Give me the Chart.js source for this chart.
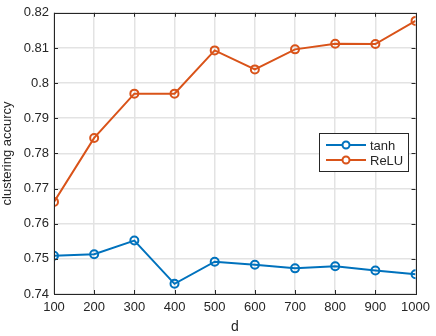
<html>
<head>
  <title>Clustering accuracy</title>
  <script src="https://cdn.jsdelivr.net/npm/chart.js@4/dist/chart.umd.min.js"></script>
  <style>
    body { margin: 0; background: white; }
    #wrap { width: 436px; height: 336px; }
  </style>
</head>
<body>
  <div id="wrap"><canvas id="accChart"></canvas></div>

  <script>
    // values
    var dValues = [100, 200, 300, 400, 500, 600, 700, 800, 900, 1000];
    var tanhAcc = [0.7509, 0.7513, 0.7552, 0.7429, 0.7492, 0.7483, 0.7473, 0.7479, 0.7467, 0.7456];
    var reluAcc = [0.7662, 0.7844, 0.7970, 0.7970, 0.8093, 0.8039, 0.8096, 0.8112, 0.8111, 0.8177];
    var seriesNames = ["tanh", "ReLU"];
    var yTicks = [0.74, 0.75, 0.76, 0.77, 0.78, 0.79, 0.80, 0.81, 0.82];

    var font = "Liberation Sans, Arial, sans-serif";

    function toPoints(xs, ys) {
      return xs.map((x, i) => ({ x: x, y: ys[i] }));
    }

    // box around the axes, inward ticks, and the legend inside the plot (matlab look)
    var matlabBox = {
      id: "matlabBox",
      afterDraw(chart) {
        var ctx = chart.ctx, a = chart.chartArea;
        var xs = chart.scales.x, ys = chart.scales.y;
        ctx.save();
        ctx.strokeStyle = "#262626";
        ctx.lineWidth = 1;
        ctx.beginPath();
        dValues.forEach((d) => {
          var px = Math.round(xs.getPixelForValue(d)) + 0.5;
          ctx.moveTo(px, a.bottom); ctx.lineTo(px, a.bottom - 4);
          ctx.moveTo(px, a.top); ctx.lineTo(px, a.top + 4);
        });
        yTicks.forEach((v) => {
          var py = Math.round(ys.getPixelForValue(v)) + 0.5;
          ctx.moveTo(a.left, py); ctx.lineTo(a.left + 4, py);
          ctx.moveTo(a.right, py); ctx.lineTo(a.right - 4, py);
        });
        ctx.stroke();
        ctx.strokeRect(Math.round(a.left) + 0.5, Math.round(a.top) + 0.5,
          Math.round(a.right - a.left), Math.round(a.bottom - a.top));

        // legend
        var lx = 319, ly = 133, lw = 89, lh = 38;
        ctx.fillStyle = "white";
        ctx.fillRect(lx, ly, lw, lh);
        ctx.strokeStyle = "#262626";
        ctx.strokeRect(lx + 0.5, ly + 0.5, lw, lh);
        chart.data.datasets.forEach((ds, i) => {
          var ry = ly + 12 + i * 15;
          ctx.strokeStyle = ds.borderColor;
          ctx.lineWidth = 2;
          ctx.beginPath();
          ctx.moveTo(lx + 7, ry); ctx.lineTo(lx + 47, ry);
          ctx.stroke();
          ctx.beginPath();
          ctx.arc(lx + 27, ry, 3.5, 0, Math.PI * 2);
          ctx.fillStyle = "white";
          ctx.fill();
          ctx.stroke();
          ctx.fillStyle = "#262626";
          ctx.font = "13px " + font;
          ctx.textBaseline = "middle";
          ctx.fillText(ds.label, lx + 51, ry + 1);
        });
        ctx.restore();
      }
    };

    var config = {
      type: "line",
      data: {
        datasets: [
          {
            label: seriesNames[0],
            data: toPoints(dValues, tanhAcc),
            borderColor: "#0072BD",
            backgroundColor: "rgba(0,0,0,0)",
            borderWidth: 2,
            pointRadius: 4,
            pointBorderWidth: 2,
          },
          {
            label: seriesNames[1],
            data: toPoints(dValues, reluAcc),
            borderColor: "#D95319",
            backgroundColor: "rgba(0,0,0,0)",
            borderWidth: 2,
            pointRadius: 4,
            pointBorderWidth: 2,
          },
        ],
      },
      options: {
        responsive: true,
        maintainAspectRatio: false,
        animation: false,
        layout: { padding: { top: 9, right: 17, left: 0, bottom: 0 } },
        plugins: { legend: { display: false }, tooltip: { enabled: false } },
        scales: {
          x: {
            type: "linear",
            min: 100,
            max: 1000,
            afterBuildTicks: (s) => { s.ticks = dValues.map((v) => ({ value: v })); },
            afterFit: (s) => { s.height = 42; },
            grid: { color: "#e3e3e3", lineWidth: 1.5, drawTicks: false },
            border: { display: false },
            ticks: {
              color: "#262626",
              font: { family: font, size: 13 },
              padding: 6,
              maxRotation: 0,
              callback: (v) => String(v),
            },
            title: { display: true, text: "d", color: "#262626", font: { family: font, size: 14 }, padding: { top: 2, bottom: 0 } },
          },
          y: {
            min: 0.74,
            max: 0.82,
            afterBuildTicks: (s) => { s.ticks = yTicks.map((v) => ({ value: v })); },
            afterFit: (s) => { s.width = 54; },
            grid: { color: "#e3e3e3", lineWidth: 1.5, drawTicks: false },
            border: { display: false },
            ticks: {
              color: "#262626",
              font: { family: font, size: 13 },
              padding: 5,
              callback: (v) => String(Number(v.toFixed(2))),
            },
            title: { display: true, text: "clustering accurcy", color: "#262626", font: { family: font, size: 13 }, padding: { top: 0, bottom: 2 } },
          },
        },
      },
      plugins: [matlabBox],
    };

    this.accChart = new Chart(document.getElementById("accChart"), config);
  </script>
</body>
</html>
